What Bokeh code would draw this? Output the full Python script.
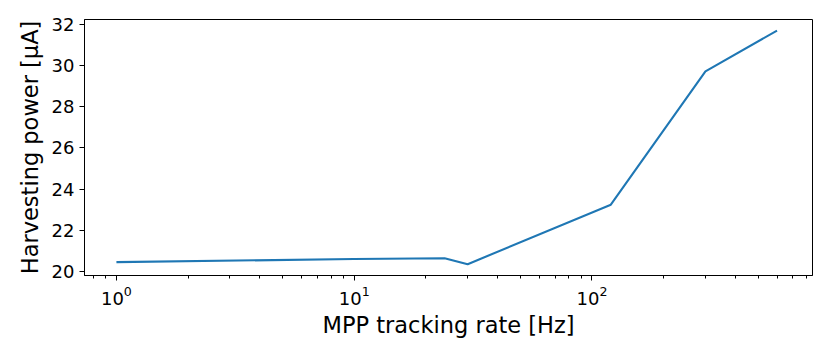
from bokeh.plotting import figure
from bokeh.models import Range1d, FixedTicker, LogTicker
from bokeh.embed import file_html
from bokeh.resources import INLINE

rate_hz = [1, 10, 24, 30, 120, 300, 600]
power_ua = [20.45, 20.6, 20.64, 20.35, 23.24, 29.72, 31.70]
y_ticks = [20, 22, 24, 26, 28, 30, 32]

p = figure(width=822, height=348, x_axis_type="log",
           x_range=Range1d(0.734, 846), y_range=Range1d(19.8, 32.24),
           output_backend="svg", toolbar_location=None,
           min_border_left=84, min_border_right=10,
           min_border_top=19, min_border_bottom=73)

p.line(rate_hz, power_ua, line_color="#1f77b4", line_width=2.1)

p.xgrid.visible = False
p.ygrid.visible = False
p.outline_line_color = "black"
p.outline_line_width = 1
p.outline_line_alpha = 1

p.yaxis.ticker = FixedTicker(ticks=y_ticks)
p.xaxis.ticker = LogTicker(num_minor_ticks=10)

for ax in (p.xaxis[0], p.yaxis[0]):
    ax.axis_line_color = "black"
    ax.major_tick_line_color = "black"
    ax.minor_tick_line_color = "black"
    ax.major_tick_out = 5
    ax.major_tick_in = 0
    ax.minor_tick_out = 3
    ax.minor_tick_in = 0
    ax.major_label_text_font = "DejaVu Sans"
    ax.major_label_text_font_size = "18px"
    ax.major_label_text_color = "black"
    ax.axis_label_text_font = "DejaVu Sans"
    ax.axis_label_text_font_size = "22.5px"
    ax.axis_label_text_font_style = "normal"
    ax.axis_label_text_color = "black"

p.yaxis.minor_tick_line_color = None
p.xaxis.axis_label = "MPP tracking rate [Hz]"
p.yaxis.axis_label = "Harvesting power [μA]"
p.xaxis.axis_label_standoff = 4
p.yaxis.axis_label_standoff = 6

open("out.html", "w").write(file_html(p, INLINE))
